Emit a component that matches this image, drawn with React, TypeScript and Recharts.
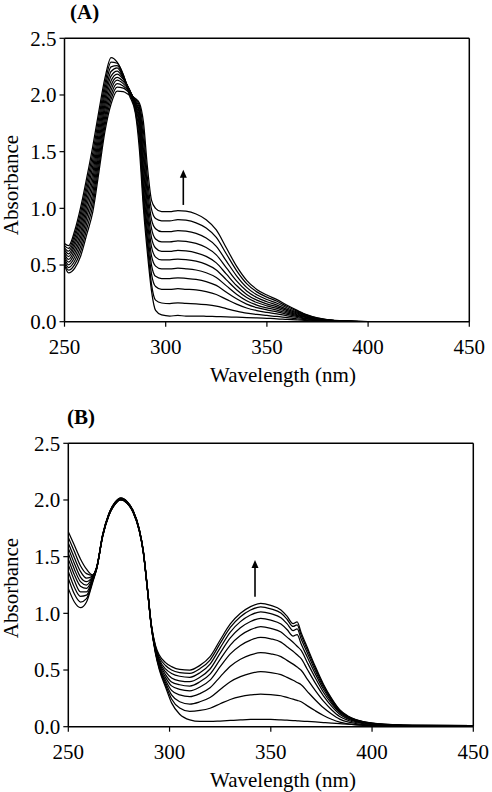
import React from 'react';
import { LineChart, Line, XAxis, YAxis, ReferenceLine } from 'recharts';

// ---------- Panel (A) ----------
const WL_A = [250, 252, 255, 258, 261, 264, 267, 270, 273, 276, 279, 282, 285, 287, 289, 291, 293, 295, 298, 302, 306, 310, 315, 320, 325, 330, 335, 340, 345, 350, 355, 360, 365, 370, 375, 380, 390, 400, 450];

const A0 = [0.69, 0.67, 0.80, 1.01, 1.27, 1.55, 1.86, 2.15, 2.33, 2.29, 2.18, 2.00, 1.84, 1.52, 1.00, 0.60, 0.27, 0.10, 0.06, 0.05, 0.055, 0.05, 0.05, 0.048, 0.045, 0.042, 0.04, 0.037, 0.034, 0.03, 0.026, 0.02, 0.015, 0.01, 0.006, 0.004, 0.002, 0, 0];
const A1 = [0.671, 0.646, 0.767, 0.967, 1.22, 1.492, 1.806, 2.103, 2.289, 2.28, 2.18, 2.02, 1.86, 1.60, 1.07, 0.67, 0.33, 0.19, 0.165, 0.160, 0.166, 0.161, 0.158, 0.150, 0.137, 0.115, 0.094, 0.076, 0.064, 0.055, 0.046, 0.035, 0.025, 0.016, 0.009, 0.006, 0.002, 0, 0];
const A2 = [0.652, 0.622, 0.734, 0.924, 1.17, 1.434, 1.752, 2.056, 2.248, 2.26, 2.17, 2.03, 1.88, 1.66, 1.13, 0.73, 0.42, 0.31, 0.285, 0.285, 0.291, 0.286, 0.280, 0.265, 0.240, 0.197, 0.155, 0.121, 0.098, 0.082, 0.069, 0.052, 0.037, 0.023, 0.013, 0.008, 0.003, 0, 0];
const A3 = [0.633, 0.598, 0.701, 0.881, 1.12, 1.376, 1.698, 2.009, 2.207, 2.24, 2.16, 2.04, 1.89, 1.72, 1.20, 0.80, 0.50, 0.40, 0.38, 0.380, 0.387, 0.382, 0.373, 0.354, 0.320, 0.260, 0.202, 0.155, 0.124, 0.104, 0.087, 0.065, 0.046, 0.028, 0.016, 0.009, 0.003, 0, 0];
const A4 = [0.614, 0.574, 0.668, 0.838, 1.07, 1.318, 1.644, 1.962, 2.166, 2.21, 2.15, 2.05, 1.91, 1.76, 1.28, 0.88, 0.58, 0.49, 0.465, 0.465, 0.472, 0.467, 0.456, 0.432, 0.390, 0.316, 0.243, 0.185, 0.147, 0.122, 0.102, 0.076, 0.053, 0.033, 0.018, 0.010, 0.003, 0, 0];
const A5 = [0.595, 0.55, 0.635, 0.795, 1.02, 1.26, 1.59, 1.915, 2.125, 2.185, 2.14, 2.05, 1.92, 1.80, 1.36, 0.95, 0.66, 0.57, 0.545, 0.545, 0.553, 0.548, 0.534, 0.506, 0.457, 0.369, 0.282, 0.213, 0.169, 0.140, 0.117, 0.087, 0.061, 0.037, 0.021, 0.012, 0.004, 0, 0];
const A6 = [0.576, 0.526, 0.602, 0.752, 0.97, 1.202, 1.536, 1.868, 2.084, 2.155, 2.12, 2.05, 1.93, 1.84, 1.44, 1.02, 0.74, 0.65, 0.62, 0.620, 0.629, 0.624, 0.608, 0.576, 0.519, 0.419, 0.319, 0.240, 0.190, 0.157, 0.131, 0.098, 0.068, 0.041, 0.023, 0.013, 0.004, 0, 0];
const A7 = [0.557, 0.502, 0.569, 0.709, 0.92, 1.144, 1.482, 1.821, 2.043, 2.13, 2.10, 2.04, 1.94, 1.86, 1.52, 1.10, 0.82, 0.73, 0.705, 0.705, 0.714, 0.709, 0.691, 0.655, 0.590, 0.475, 0.360, 0.271, 0.213, 0.176, 0.146, 0.109, 0.076, 0.046, 0.025, 0.014, 0.004, 0, 0];
const A8 = [0.538, 0.478, 0.536, 0.666, 0.87, 1.086, 1.428, 1.774, 2.002, 2.10, 2.08, 2.03, 1.95, 1.89, 1.60, 1.18, 0.90, 0.82, 0.795, 0.795, 0.804, 0.799, 0.779, 0.738, 0.665, 0.534, 0.405, 0.303, 0.237, 0.196, 0.163, 0.121, 0.084, 0.051, 0.028, 0.015, 0.004, 0, 0];
const A9 = [0.519, 0.454, 0.503, 0.623, 0.82, 1.028, 1.374, 1.727, 1.961, 2.07, 2.06, 2.02, 1.96, 1.91, 1.68, 1.26, 0.99, 0.91, 0.89, 0.890, 0.900, 0.895, 0.872, 0.826, 0.743, 0.597, 0.451, 0.336, 0.263, 0.217, 0.180, 0.134, 0.093, 0.056, 0.031, 0.017, 0.005, 0, 0];
const A10 = [0.50, 0.43, 0.47, 0.58, 0.77, 0.97, 1.32, 1.68, 1.92, 2.035, 2.03, 2.00, 1.97, 1.93, 1.76, 1.36, 1.07, 1.00, 0.97, 0.97, 0.98, 0.975, 0.95, 0.90, 0.81, 0.65, 0.49, 0.365, 0.285, 0.235, 0.195, 0.145, 0.10, 0.06, 0.033, 0.018, 0.005, 0, 0];
const SERIES_A = [A0, A1, A2, A3, A4, A5, A6, A7, A8, A9, A10];

// ---------- Panel (B) ----------
const WL_B = [250, 253, 256, 259, 262, 264, 267, 270, 273, 276, 279, 282, 285, 287, 289, 291, 293, 295, 298, 301, 305, 310, 315, 320, 325, 330, 335, 340, 345, 350, 355, 358, 361, 363, 365, 368, 372, 376, 380, 384, 388, 392, 396, 400, 410, 420, 450];

const B0 = [1.22, 1.10, 1.05, 1.10, 1.27, 1.39, 1.68, 1.86, 1.96, 2.00, 1.97, 1.89, 1.73, 1.54, 1.22, 0.88, 0.65, 0.50, 0.35, 0.21, 0.11, 0.06, 0.046, 0.046, 0.05, 0.055, 0.06, 0.064, 0.065, 0.064, 0.060, 0.057, 0.054, 0.052, 0.050, 0.046, 0.042, 0.037, 0.032, 0.027, 0.022, 0.018, 0.015, 0.012, 0.009, 0.007, 0.006];
const B1 = [1.31, 1.17, 1.10, 1.13, 1.28, 1.392, 1.682, 1.862, 1.962, 2.002, 1.972, 1.892, 1.732, 1.542, 1.222, 0.88, 0.66, 0.51, 0.37, 0.245, 0.165, 0.135, 0.143, 0.163, 0.202, 0.240, 0.265, 0.280, 0.288, 0.283, 0.273, 0.258, 0.243, 0.232, 0.220, 0.185, 0.140, 0.099, 0.066, 0.040, 0.025, 0.016, 0.012, 0.010, 0.008, 0.007, 0.006];
const B2 = [1.37, 1.23, 1.15, 1.16, 1.29, 1.394, 1.684, 1.864, 1.964, 2.004, 1.974, 1.894, 1.734, 1.544, 1.224, 0.885, 0.665, 0.52, 0.39, 0.28, 0.22, 0.20, 0.220, 0.257, 0.328, 0.397, 0.442, 0.471, 0.485, 0.477, 0.459, 0.435, 0.410, 0.390, 0.370, 0.312, 0.236, 0.167, 0.112, 0.067, 0.042, 0.028, 0.019, 0.014, 0.010, 0.008, 0.007];
const B3 = [1.43, 1.29, 1.19, 1.19, 1.30, 1.396, 1.686, 1.866, 1.966, 2.006, 1.976, 1.896, 1.736, 1.546, 1.226, 0.885, 0.67, 0.53, 0.41, 0.32, 0.28, 0.265, 0.292, 0.343, 0.440, 0.533, 0.595, 0.634, 0.653, 0.642, 0.618, 0.585, 0.552, 0.526, 0.498, 0.420, 0.318, 0.225, 0.150, 0.090, 0.057, 0.037, 0.026, 0.019, 0.012, 0.009, 0.008];
const B4 = [1.48, 1.34, 1.24, 1.22, 1.31, 1.398, 1.688, 1.868, 1.968, 2.008, 1.978, 1.898, 1.738, 1.548, 1.228, 0.89, 0.675, 0.545, 0.435, 0.36, 0.33, 0.317, 0.350, 0.411, 0.529, 0.642, 0.717, 0.764, 0.788, 0.775, 0.746, 0.706, 0.666, 0.634, 0.601, 0.507, 0.384, 0.272, 0.181, 0.109, 0.069, 0.045, 0.032, 0.023, 0.014, 0.010, 0.008];
const B5 = [1.53, 1.39, 1.28, 1.25, 1.32, 1.40, 1.69, 1.87, 1.97, 2.01, 1.98, 1.90, 1.74, 1.55, 1.23, 0.89, 0.68, 0.56, 0.46, 0.395, 0.37, 0.359, 0.396, 0.464, 0.594, 0.720, 0.804, 0.856, 0.882, 0.867, 0.835, 0.790, 0.745, 0.710, 0.673, 0.567, 0.430, 0.304, 0.203, 0.122, 0.077, 0.050, 0.035, 0.026, 0.015, 0.010, 0.008];
const B6 = [1.575, 1.44, 1.32, 1.28, 1.325, 1.402, 1.692, 1.872, 1.972, 2.012, 1.982, 1.902, 1.742, 1.552, 1.232, 0.895, 0.69, 0.575, 0.485, 0.43, 0.405, 0.397, 0.436, 0.509, 0.649, 0.783, 0.872, 0.928, 0.956, 0.940, 0.905, 0.857, 0.799, 0.813, 0.729, 0.615, 0.466, 0.330, 0.220, 0.132, 0.083, 0.054, 0.038, 0.028, 0.016, 0.011, 0.009];
const B7 = [1.62, 1.49, 1.37, 1.31, 1.33, 1.404, 1.694, 1.874, 1.974, 2.014, 1.984, 1.904, 1.744, 1.554, 1.234, 0.895, 0.70, 0.59, 0.51, 0.47, 0.445, 0.436, 0.476, 0.552, 0.696, 0.835, 0.927, 0.985, 1.014, 0.997, 0.960, 0.909, 0.848, 0.862, 0.774, 0.652, 0.494, 0.350, 0.233, 0.140, 0.088, 0.058, 0.041, 0.029, 0.017, 0.011, 0.009];
const B8 = [1.67, 1.545, 1.42, 1.35, 1.335, 1.406, 1.696, 1.876, 1.976, 2.016, 1.986, 1.906, 1.746, 1.556, 1.236, 0.90, 0.71, 0.61, 0.54, 0.50, 0.478, 0.471, 0.512, 0.588, 0.735, 0.876, 0.970, 1.029, 1.058, 1.040, 1.002, 0.948, 0.884, 0.899, 0.807, 0.680, 0.515, 0.365, 0.243, 0.146, 0.092, 0.060, 0.042, 0.031, 0.018, 0.012, 0.010];
const B9 = [1.72, 1.60, 1.48, 1.39, 1.34, 1.408, 1.698, 1.878, 1.978, 2.018, 1.988, 1.908, 1.748, 1.558, 1.238, 0.90, 0.72, 0.63, 0.565, 0.53, 0.505, 0.50, 0.541, 0.618, 0.765, 0.906, 1.000, 1.059, 1.088, 1.07, 1.03, 0.975, 0.91, 0.925, 0.83, 0.70, 0.53, 0.375, 0.25, 0.15, 0.095, 0.062, 0.043, 0.032, 0.018, 0.012, 0.01];
const SERIES_B = [B0, B1, B2, B3, B4, B5, B6, B7, B8, B9];

// ---------- Axes & annotations ----------
const X_TICKS = [250, 300, 350, 400, 450];
const Y_TICKS = [0, 0.5, 1.0, 1.5, 2.0, 2.5];
const ARROW_A = [{ x: 308.7, y: 1.03 }, { x: 308.7, y: 1.34 }];
const ARROW_B = [{ x: 342.2, y: 1.146 }, { x: 342.2, y: 1.47 }];

const FONT = '"Liberation Serif", "Times New Roman", serif';

function buildRows(wl: number[], series: number[][]) {
  return wl.map((w, k) => {
    const row: Record<string, number> = { wl: w };
    series.forEach((s, i) => {
      row['s' + i] = s[k];
    });
    return row;
  });
}

const Arrow = (props: any) => {
  const { x1, y1, x2, y2 } = props;
  if ([x1, y1, x2, y2].some((v) => typeof v !== 'number' || isNaN(v))) return <g />;
  return (
    <g>
      <line x1={x1} y1={y1} x2={x2} y2={y2 + 6} stroke="#000" strokeWidth={1.6} />
      <polygon points={`${x2},${y2} ${x2 - 3.5},${y2 + 8} ${x2 + 3.5},${y2 + 8}`} fill="#000" />
    </g>
  );
};

function Panel({ wl, series, margin, arrow }: any) {
  const rows = buildRows(wl, series);
  const tickStyle = { fontSize: 21, fill: '#000', fontFamily: FONT };
  return (
    <LineChart width={492} height={392} data={rows} margin={margin}>
      <XAxis
        dataKey="wl"
        type="number"
        domain={[250, 450]}
        ticks={X_TICKS}
        interval={0}
        allowDataOverflow
        tick={tickStyle}
        tickSize={5}
        tickMargin={12}
        height={30}
        tickLine={{ stroke: '#000', strokeWidth: 1.2 }}
        axisLine={{ stroke: '#000', strokeWidth: 1.5 }}
      />
      <YAxis
        type="number"
        domain={[0, 2.5]}
        ticks={Y_TICKS}
        interval={0}
        allowDataOverflow
        tickFormatter={(v: number) => v.toFixed(1)}
        tick={tickStyle}
        tickSize={5}
        tickMargin={3}
        width={60}
        tickLine={{ stroke: '#000', strokeWidth: 1.2 }}
        axisLine={{ stroke: '#000', strokeWidth: 1.5 }}
      />
      <ReferenceLine y={2.5} stroke="#000" strokeWidth={1.5} />
      <ReferenceLine x={450} stroke="#000" strokeWidth={1.5} />
      {series.map((_: number[], i: number) => (
        <Line
          key={i}
          dataKey={'s' + i}
          type="monotone"
          stroke="#000"
          strokeWidth={1.25}
          dot={false}
          activeDot={false}
          isAnimationActive={false}
        />
      ))}
      <ReferenceLine segment={arrow} shape={Arrow} />
    </LineChart>
  );
}

export default function App() {
  return (
    <div
      style={{
        position: 'absolute',
        left: 0,
        top: 0,
        width: 492,
        height: 792,
        background: '#fff',
        overflow: 'hidden',
      }}
    >
      <div style={{ position: 'absolute', left: 0, top: 0 }}>
        <Panel
          wl={WL_A}
          series={SERIES_A}
          arrow={ARROW_A}
          margin={{ top: 38.3, right: 22.7, left: 4.5, bottom: 40.3 }}
        />
      </div>
      <div style={{ position: 'absolute', left: 0, top: 400 }}>
        <Panel
          wl={WL_B}
          series={SERIES_B}
          arrow={ARROW_B}
          margin={{ top: 43.3, right: 18.7, left: 8.3, bottom: 35.3 }}
        />
      </div>
      <svg
        width={492}
        height={792}
        style={{ position: 'absolute', left: 0, top: 0, pointerEvents: 'none' }}
      >
        <g style={{ fontFamily: FONT }} fill="#000">
          <text x={70} y={18.5} fontSize={21} fontWeight="bold">(A)</text>
          <text x={67} y={424} fontSize={21} fontWeight="bold">(B)</text>
          <text x={18} y={185} fontSize={21} textAnchor="middle" transform="rotate(-90 18 185)">Absorbance</text>
          <text x={18} y={588} fontSize={21} textAnchor="middle" transform="rotate(-90 18 588)">Absorbance</text>
          <text x={283} y={382} fontSize={21} textAnchor="middle">Wavelength (nm)</text>
          <text x={283} y={787} fontSize={21} textAnchor="middle">Wavelength (nm)</text>
        </g>
      </svg>
    </div>
  );
}
